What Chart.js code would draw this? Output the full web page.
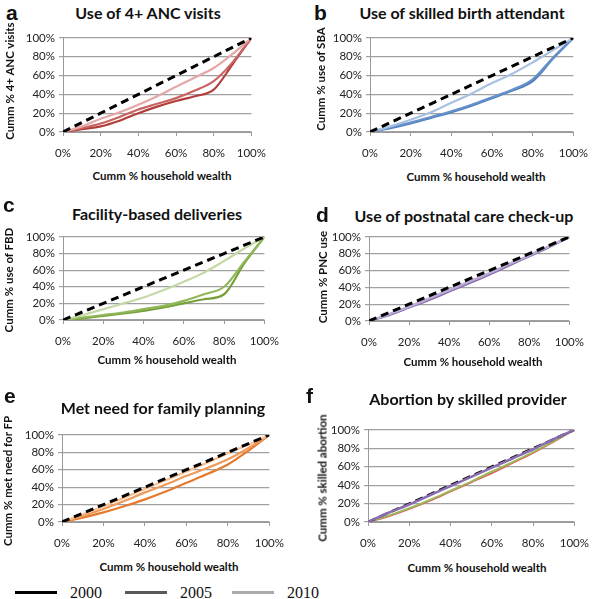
<!DOCTYPE html>
<html>
<head>
<meta charset="utf-8">
<script src="https://cdn.jsdelivr.net/npm/chart.js@4.4.1/dist/chart.umd.min.js"></script>
<style>
  body { margin: 0; background: #fff; }
  #wrap { position: relative; width: 600px; height: 599px; overflow: hidden; font-family: Lato, "Open Sans", sans-serif; color: #111; }
  canvas { position: absolute; }
  .t { position: absolute; white-space: nowrap; transform: translate(-50%, -50%); font-weight: bold; }
  .title { font-size: 16px; }
  .xt { font-size: 11.5px; }
  .yt { font-size: 11.5px; transform: translate(-50%, -50%) rotate(-90deg); }
  .letter { position: absolute; font-family: "Liberation Sans", Arial, sans-serif; font-weight: bold; font-size: 21px; line-height: 1; }
  .leg { position: absolute; top: 584px; font-family: "Liberation Serif", "DejaVu Serif", serif; font-size: 16px; }
  .legline { position: absolute; top: 591px; height: 3px; }
</style>
</head>
<body>
<div id="wrap"></div>
<script>
// x positions: cumulative % of households ranked by wealth
const wealth = [0, 10, 20, 30, 40, 50, 60, 70, 80, 90, 100];
const equality = [0, 10, 20, 30, 40, 50, 60, 70, 80, 90, 100];
const years = ["2000", "2005", "2010"];

// a: use of 4+ ANC visits
const ancData = [
  [0, 3, 6, 12, 20, 27, 33, 38, 45, 72, 100],
  [0, 4, 9, 16, 24, 30, 36, 44, 54, 74, 100],
  [0, 6, 14, 21, 29, 38, 48, 58, 68, 83, 100]
];
// b: skilled birth attendant
const sbaData = [
  [0, 4, 9, 15, 21, 28, 36, 44, 54, 78, 100],
  [0, 5, 10, 16, 22, 29, 37, 45, 56, 79, 100],
  [0, 6, 13, 21, 31, 41, 52, 62, 74, 87, 100]
];
// c: facility-based deliveries
const fbdData = [
  [0, 2, 5, 8, 11, 15, 20, 25, 31, 68, 100],
  [0, 3, 6, 9, 13, 17, 23, 31, 40, 70, 100],
  [0, 6, 13, 20, 27, 36, 46, 57, 71, 86, 100]
];
// d: postnatal care check-up
const pncData = [
  [0, 7, 16, 25, 35, 45, 55, 66, 77, 88, 100],
  [0, 8, 17, 26, 36, 46, 56, 67, 78, 89, 100],
  [0, 8, 17, 27, 37, 47, 57, 68, 78, 89, 100]
];
// e: met need for family planning
const fpData = [
  [0, 5, 11, 18, 26, 35, 45, 55, 66, 82, 100],
  [0, 7, 15, 24, 34, 43, 53, 62, 72, 85, 100],
  [0, 9, 18, 28, 38, 48, 58, 68, 79, 89, 100]
];
// f: abortion by skilled provider
const abortData = [
  [0, 6, 14, 23, 33, 43, 53, 64, 75, 87, 100],
  [0, 7, 15, 24, 34, 44, 55, 65, 76, 88, 100],
  [0, 10, 19, 29, 39, 49, 59, 69, 79, 90, 100]
];

const pctTicks = [0, 20, 40, 60, 80, 100];

const panels = [
  { letter: "a", lx: 6, ly: 2, title: "Use of 4+ ANC visits", tx: 148, ty: 12, ytitle: "Cumm % 4+ ANC visits", yx: 9, yy: 81,
    xtx: 162, xty: 175, area: [63, 35, 260, 132], lw: [2.2, 2.2, 2.2], data: ancData, colors: ["#b23e3c", "#c96462", "#e4a8a6"] },
  { letter: "b", lx: 314, ly: 2, title: "Use of skilled birth attendant", tx: 462, ty: 12, ytitle: "Cumm % use of SBA", yx: 320, yy: 79,
    xtx: 476, xty: 176, area: [370, 35, 582, 132], lw: [2.2, 2.2, 2.2], data: sbaData, colors: ["#4f7dbd", "#6690c9", "#a9c1e1"] },
  { letter: "c", lx: 3, ly: 194, title: "Facility-based deliveries", tx: 157, ty: 213, ytitle: "Cumm % use of FBD", yx: 8, yy: 280,
    xtx: 167, xty: 359, area: [63, 234, 273, 320], lw: [2.2, 2.2, 2.2], data: fbdData, colors: ["#76a03a", "#91b65a", "#c4d9a6"] },
  { letter: "d", lx: 316, ly: 204, title: "Use of postnatal care check-up", tx: 464, ty: 215, ytitle: "Cumm % PNC use", yx: 322, yy: 277,
    xtx: 473, xty: 361, area: [369, 234, 578, 321], lw: [2.2, 2.2, 2.2], data: pncData, colors: ["#8367a8", "#9a84bc", "#bcaed6"] },
  { letter: "e", lx: 4, ly: 385, title: "Met need for family planning", tx: 163, ty: 407, ytitle: "Cumm % met need for FP", yx: 7, yy: 481,
    xtx: 169, xty: 566, area: [62, 432, 278, 522], lw: [2.2, 2.2, 2.2], data: fpData, colors: ["#e57a2e", "#f09a5a", "#f8bf92"] },
  { letter: "f", lx: 306, ly: 385, title: "Abortion by skilled provider", tx: 468, ty: 398, ytitle: "Cumm % skilled abortion", yx: 322, yy: 478,
    xtx: 477, xty: 567, area: [368, 427, 583, 522], lw: [1.6, 1.8, 2.6], data: abortData, colors: ["#d65f58", "#9bbb59", "#8a6db0"] }
];

const wrap = document.getElementById("wrap");
const Y_W = 50, X_H = 34, PAD_T = 8, PAD_R = 16;

function addText(cls, txt, x, y) {
  const d = document.createElement("div");
  d.className = "t " + cls;
  d.textContent = txt;
  d.style.left = x + "px";
  d.style.top = y + "px";
  wrap.appendChild(d);
}

panels.forEach(p => {
  const [l, t, r, b] = p.area;
  const cv = document.createElement("canvas");
  const w = Y_W + (r - l) + PAD_R;
  const h = PAD_T + (b - t) + X_H;
  cv.width = w;
  cv.height = h;
  cv.style.left = (l - Y_W) + "px";
  cv.style.top = (t - PAD_T) + "px";
  wrap.appendChild(cv);

  const isF = p.letter === "f";
  // later years drawn on top of earlier ones, equality line on top (except panel f)
  const datasets = p.data.map((vals, i) => ({
    label: years[i],
    data: wealth.map((x, k) => ({ x: x, y: vals[k] })),
    borderColor: p.colors[i],
    borderWidth: p.lw[i],
    pointRadius: 0,
    tension: 0.4,
    cubicInterpolationMode: "monotone",
    fill: false,
    order: isF && i === 2 ? -1 : 3 - i
  }));
  datasets.push({
    label: "equality",
    data: wealth.map((x, k) => ({ x: x, y: equality[k] })),
    borderColor: "#000",
    borderWidth: isF ? 2.5 : 3,
    borderDash: [8, 5],
    pointRadius: 0,
    fill: false,
    order: 0
  });

  new Chart(cv, {
    type: "line",
    data: { datasets: datasets },
    options: {
      responsive: false,
      animation: false,
      devicePixelRatio: 1,
      layout: { padding: { top: PAD_T, right: PAD_R, left: 0, bottom: 0 } },
      plugins: { legend: { display: false }, tooltip: { enabled: false } },
      scales: {
        x: {
          type: "linear", min: 0, max: 100,
          afterBuildTicks: s => { s.ticks = pctTicks.map(v => ({ value: v })); },
          afterFit: s => { s.height = X_H; },
          grid: { drawOnChartArea: false, drawTicks: true, tickLength: 4, color: "#9a9a9a" },
          border: { color: "#9a9a9a" },
          ticks: { padding: 10, autoSkip: false, color: "#222", font: { family: "Lato", size: 11.5 }, callback: v => v + "%", maxRotation: 0 }
        },
        y: {
          type: "linear", min: 0, max: 100,
          afterBuildTicks: s => { s.ticks = pctTicks.map(v => ({ value: v })); },
          afterFit: s => { s.width = Y_W; },
          grid: { color: "#a0a0a0", lineWidth: 1.2, tickLength: 4 },
          border: { color: "#9a9a9a" },
          ticks: { padding: 4, autoSkip: false, color: "#222", font: { family: "Lato", size: 11.5 }, callback: v => v + "%" }
        }
      }
    }
  });

  const lt = document.createElement("div");
  lt.className = "letter";
  lt.textContent = p.letter;
  lt.style.left = p.lx + "px";
  lt.style.top = p.ly + "px";
  wrap.appendChild(lt);

  addText("title", p.title, p.tx, p.ty);
  addText("xt", "Cumm % household wealth", p.xtx, p.xty);
  addText("yt", p.ytitle, p.yx, p.yy);
});

// legend (years)
const legendColors = ["#000", "#5a5a5a", "#ababab"];
const legendX = [15, 125, 232];
years.forEach((yr, i) => {
  const ln = document.createElement("div");
  ln.className = "legline";
  ln.style.left = legendX[i] + "px";
  ln.style.width = "42px";
  ln.style.background = legendColors[i];
  wrap.appendChild(ln);
  const tx = document.createElement("div");
  tx.className = "leg";
  tx.textContent = yr;
  tx.style.left = (legendX[i] + 55) + "px";
  wrap.appendChild(tx);
});
</script>
</body>
</html>
